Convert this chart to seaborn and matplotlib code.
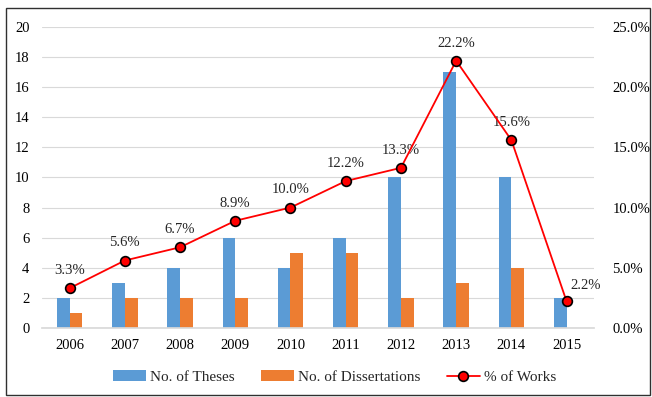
import matplotlib
matplotlib.use("Agg")
import matplotlib.pyplot as plt
import seaborn as sns
import pandas as pd
import numpy as np
from matplotlib.patches import Rectangle, Patch
from matplotlib.lines import Line2D

years = ["2006", "2007", "2008", "2009", "2010", "2011", "2012", "2013", "2014", "2015"]
theses = [2, 3, 4, 6, 4, 6, 10, 17, 10, 2]
dissertations = [1, 2, 2, 2, 5, 5, 2, 3, 4, 0]
pct_works = [3.3, 5.6, 6.7, 8.9, 10.0, 12.2, 13.3, 22.2, 15.6, 2.2]
series_names = ["No. of Theses", "No. of Dissertations", "% of Works"]

sns.set_theme(style="white")
plt.rcParams["font.family"] = ["Liberation Serif", "DejaVu Serif"]

df = pd.DataFrame({
    "Year": years * 2,
    "Count": theses + dissertations,
    "Series": [series_names[0]] * len(years) + [series_names[1]] * len(years),
})

blue = "#5B9BD5"
orange = "#ED7D31"

fig = plt.figure(figsize=(6.52, 3.97), dpi=100)
ax = fig.add_axes([0.0644, 0.174, 0.847, 0.758])

sns.barplot(data=df, x="Year", y="Count", hue="Series", order=years,
            palette=[blue, orange], width=0.46, ax=ax, legend=False,
            saturation=1, edgecolor="none")

ax.set_ylim(0, 20)
ax.set_yticks(range(0, 21, 2))
ax.set_xlim(-0.5, len(years) - 0.5)
ax.set_xlabel("")
ax.set_ylabel("")
ax.grid(axis="y", color="#D9D9D9", linewidth=0.8)
ax.set_axisbelow(True)
for s in ["top", "right", "left"]:
    ax.spines[s].set_visible(False)
ax.spines["bottom"].set_color("#D9D9D9")
ax.tick_params(axis="both", length=0, labelsize=10.5, colors="black")
ax.tick_params(axis="x", pad=8)
ax.tick_params(axis="y", pad=9)

ax2 = ax.twinx()
x = np.arange(len(years))
ax2.plot(x, pct_works, color="#FF0000", linewidth=1.3, marker="o",
         markersize=7, markerfacecolor="#FF0000", markeredgecolor="black",
         markeredgewidth=1.2, zorder=5)
ax2.set_ylim(0, 25)
ax2.set_yticks(np.arange(0, 26, 5))
ax2.set_yticklabels([f"{v:.1f}%" for v in np.arange(0, 26, 5)])
for s in ax2.spines.values():
    s.set_visible(False)
ax2.tick_params(axis="y", length=0, labelsize=10.5, colors="black", pad=13)
ax2.grid(False)

for xi, v in zip(x, pct_works):
    if xi == len(years) - 1:
        ax2.annotate(f"{v:.1f}%", (xi, v), xytext=(14, 7), textcoords="offset points",
                     ha="center", va="bottom", fontsize=10.5)
    else:
        ax2.annotate(f"{v:.1f}%", (xi, v), xytext=(0, 8), textcoords="offset points",
                     ha="center", va="bottom", fontsize=10.5)

handles = [
    Patch(facecolor=blue, edgecolor="none"),
    Patch(facecolor=orange, edgecolor="none"),
    Line2D([0], [0], color="#FF0000", linewidth=1.3, marker="o", markersize=7,
           markerfacecolor="#FF0000", markeredgecolor="black", markeredgewidth=1.2),
]
fig.legend(handles, series_names, loc="center", bbox_to_anchor=(0.513, 0.05),
           ncol=3, frameon=False, fontsize=11, handlelength=2.2,
           handleheight=0.65, columnspacing=1.7, handletextpad=0.25)

fig.add_artist(Rectangle((0.0095, 0.005), 0.988, 0.975, transform=fig.transFigure,
                         fill=False, edgecolor="#303030", linewidth=1.0))

fig.savefig("out.png", dpi=100)
